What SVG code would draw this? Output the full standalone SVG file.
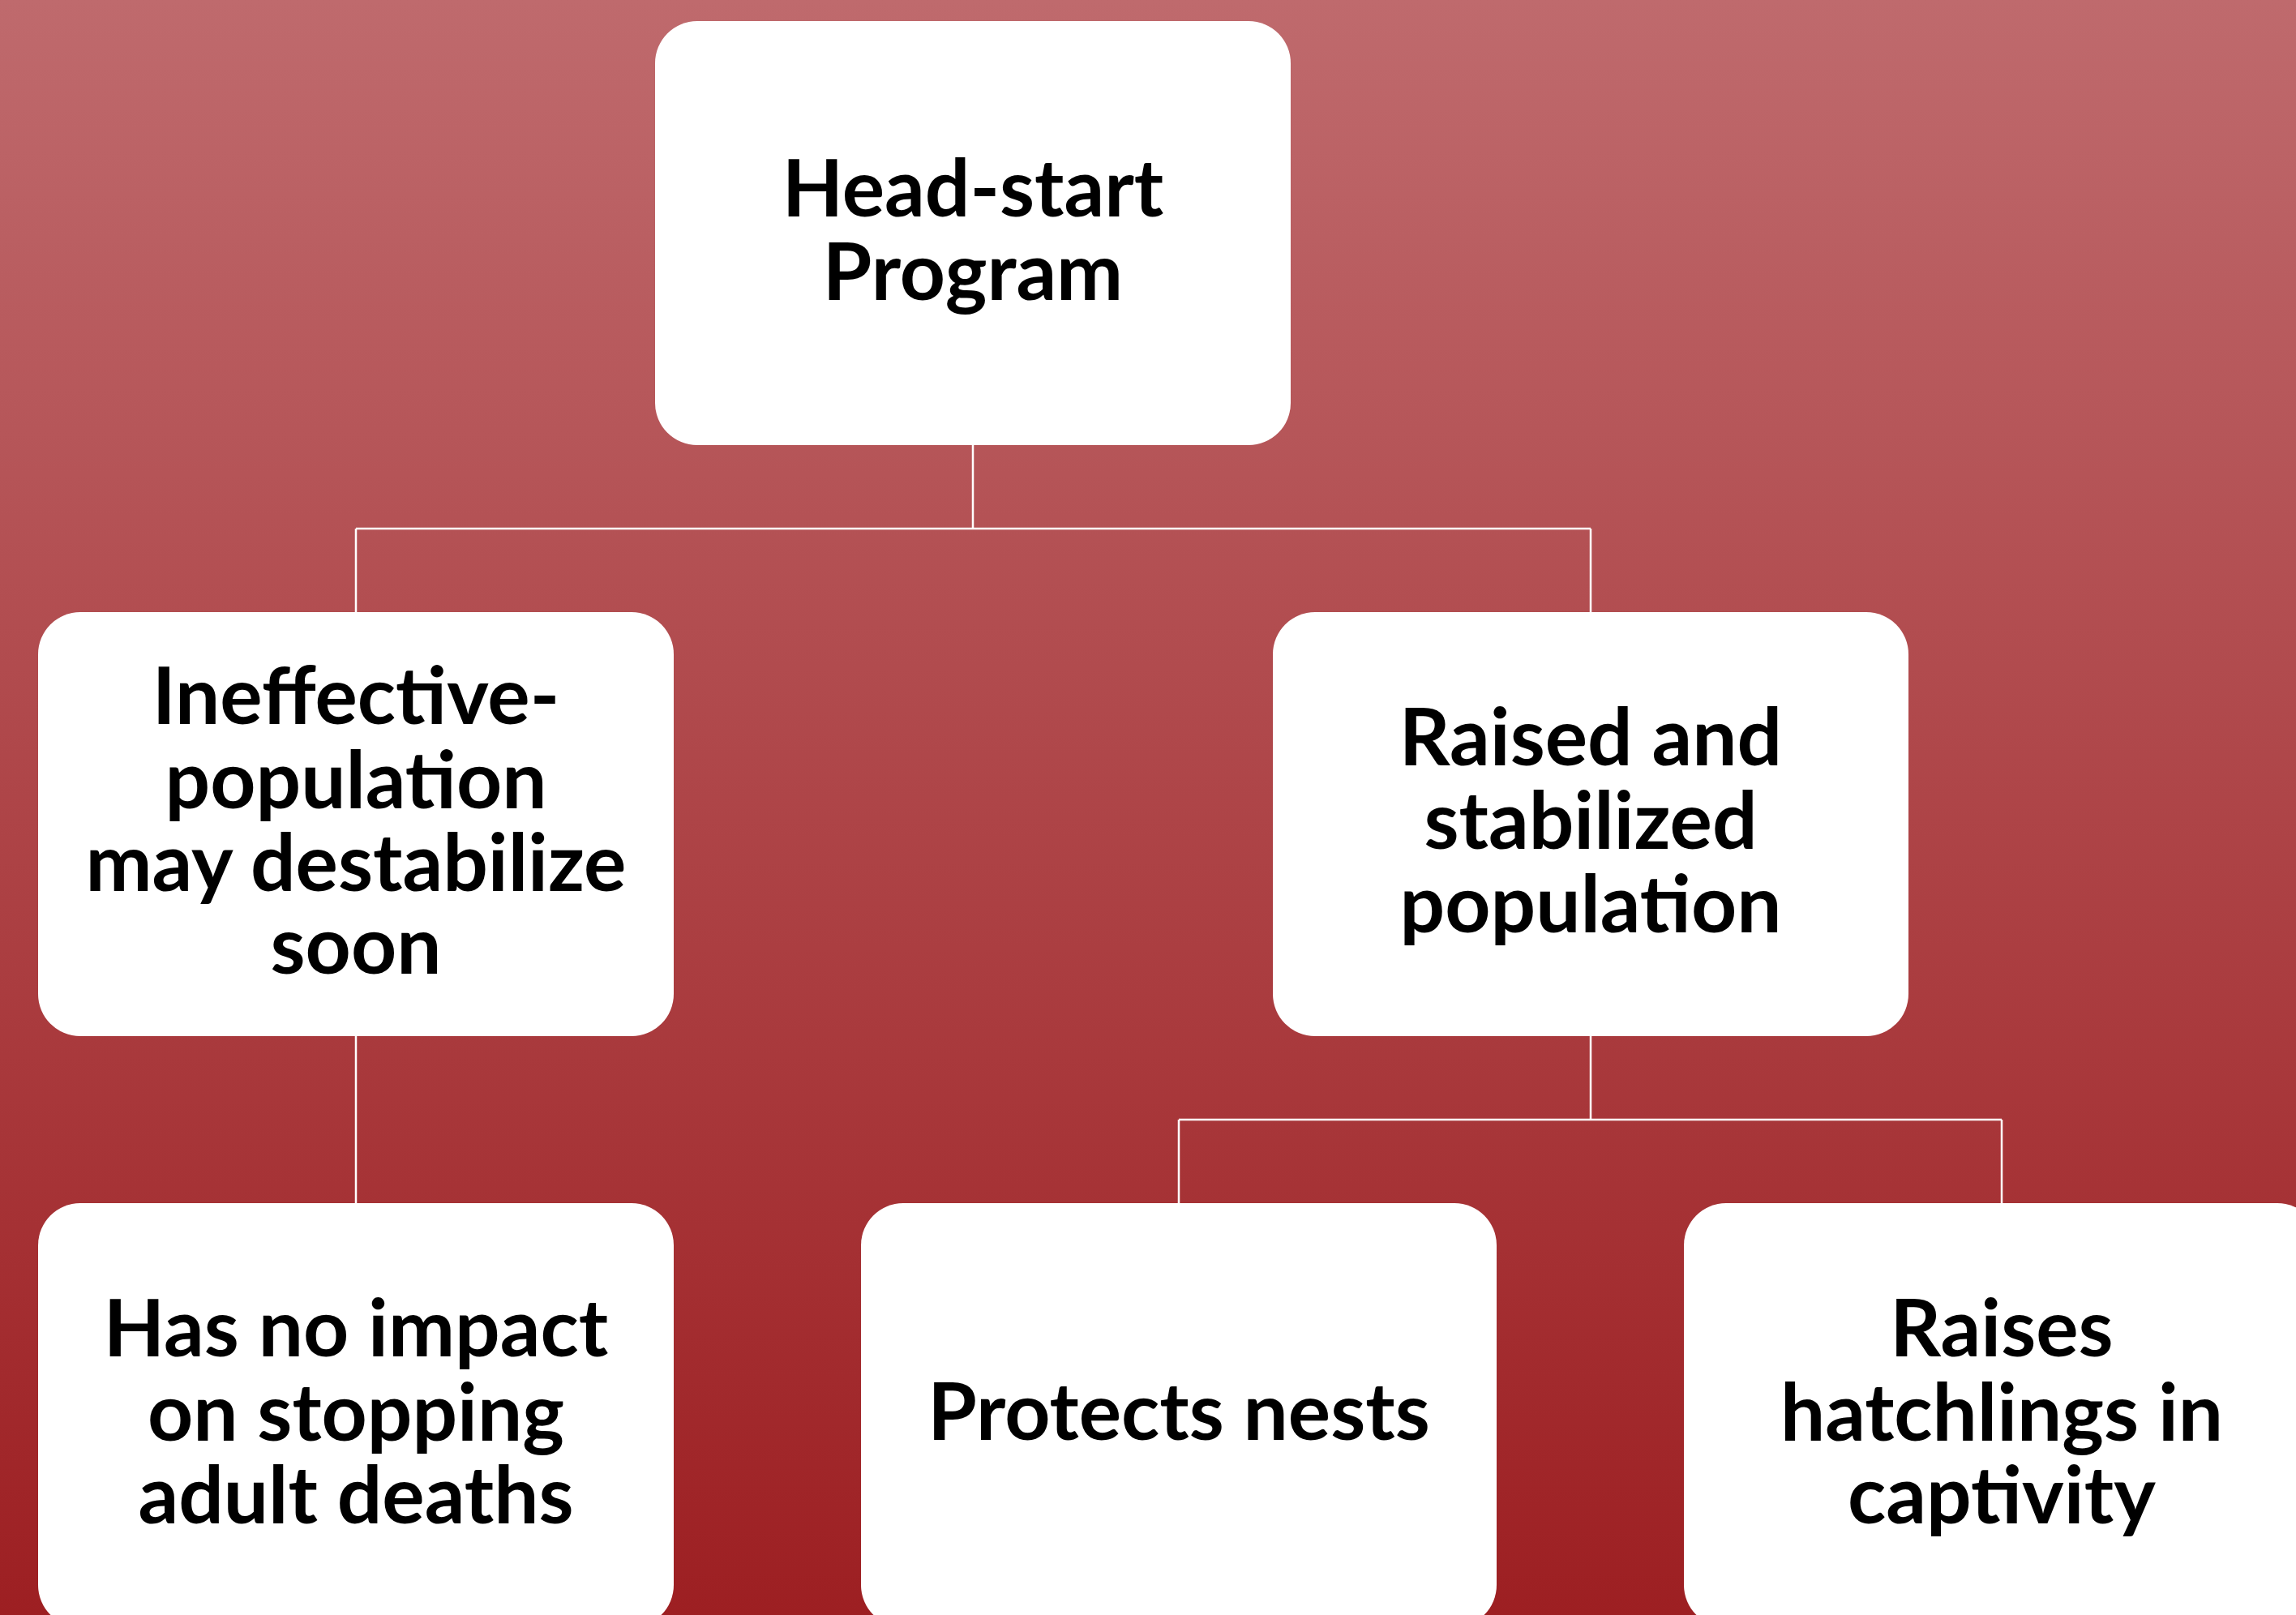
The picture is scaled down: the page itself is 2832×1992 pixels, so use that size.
<svg xmlns="http://www.w3.org/2000/svg" width="2832" height="1992" viewBox="0 0 2832 1992">
<defs>
<linearGradient id="bg" x1="0" y1="0" x2="0" y2="1">
<stop offset="0" stop-color="#BF6A6D"/>
<stop offset="1" stop-color="#9D1F22"/>
</linearGradient>
</defs>
<style>
.node rect{fill:#FFFFFF;}
.node text{font-family:Lato,"Open Sans","Liberation Sans",sans-serif;font-weight:700;font-size:98px;fill:#000000;text-anchor:middle;}
.conn{fill:none;stroke:#FFFFFF;stroke-width:2.5;}
</style>
<rect x="0" y="0" width="2832" height="1992" fill="url(#bg)"/>
<g id="connectors">
<path class="conn" d="M1200 549 V652 M439 652 H1962 M439 652 V755 M1962 652 V755"/>
<path class="conn" d="M439 1278 V1484"/>
<path class="conn" d="M1962 1278 V1381 M1454 1381 H2469 M1454 1381 V1484 M2469 1381 V1484"/>
</g>
<g id="node-headstart" class="node">
<rect x="808" y="26" width="784" height="523" rx="52"/>
<text x="1200" y="267">Head-start</text>
<text x="1200" y="370">Program</text>
</g>
<g id="node-ineffective" class="node">
<rect x="47" y="755" width="784" height="523" rx="52"/>
<text x="439" y="893">Ineffective-</text>
<text x="439" y="997">population</text>
<text x="439" y="1099">may destabilize</text>
<text x="439" y="1201">soon</text>
</g>
<g id="node-raised" class="node">
<rect x="1570" y="755" width="784" height="523" rx="52"/>
<text x="1962" y="944">Raised and</text>
<text x="1962" y="1047">stabilized</text>
<text x="1962" y="1150">population</text>
</g>
<g id="node-noimpact" class="node">
<rect x="47" y="1484" width="784" height="523" rx="52"/>
<text x="439" y="1673">Has no impact</text>
<text x="439" y="1777">on stopping</text>
<text x="439" y="1879">adult deaths</text>
</g>
<g id="node-protects" class="node">
<rect x="1062" y="1484" width="784" height="523" rx="52"/>
<text x="1454" y="1776">Protects nests</text>
</g>
<g id="node-raises" class="node">
<rect x="2077" y="1484" width="784" height="523" rx="52"/>
<text x="2469" y="1673">Raises</text>
<text x="2469" y="1777">hatchlings in</text>
<text x="2469" y="1879">captivity</text>
</g>
</svg>
